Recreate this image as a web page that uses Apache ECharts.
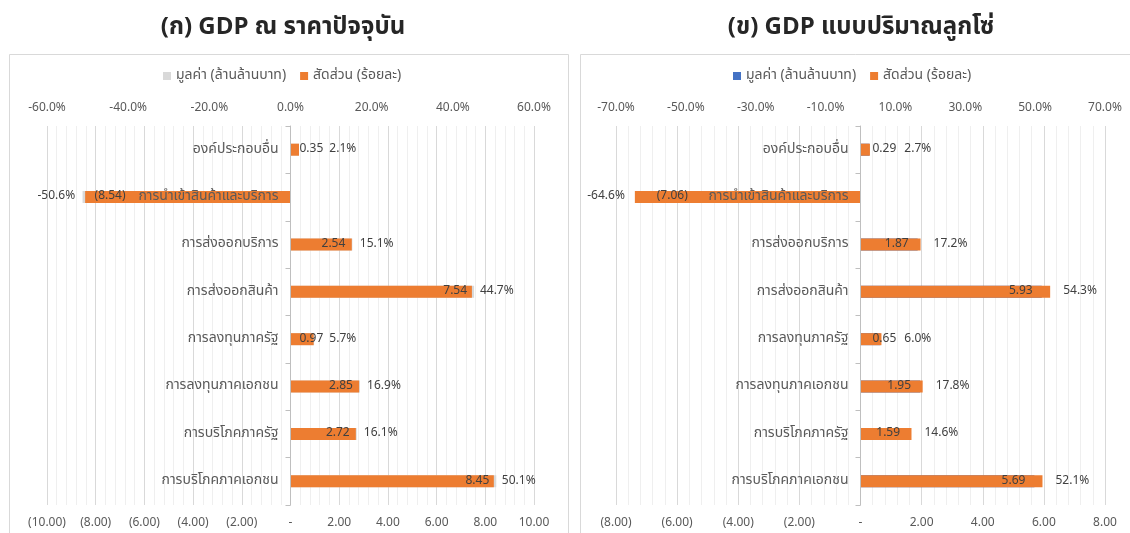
<!DOCTYPE html>
<html>
<head>
<meta charset="utf-8">
<script src="https://cdn.jsdelivr.net/npm/echarts@6/dist/echarts.min.js"></script>
<style>
  html, body { margin: 0; padding: 0; background: #fff; }
  #main { width: 1130px; height: 533px; }
</style>
</head>
<body>
<div id="main"></div>
<script>
// หมวดหมู่ (เรียงจากบนลงล่าง)
var categories = ['องค์ประกอบอื่น', 'การนำเข้าสินค้าและบริการ', 'การส่งออกบริการ', 'การส่งออกสินค้า',
  'การลงทุนภาครัฐ', 'การลงทุนภาคเอกชน', 'การบริโภคภาครัฐ', 'การบริโภคภาคเอกชน'];

// (ก) GDP ณ ราคาปัจจุบัน
var nominalValue = [0.35, -8.54, 2.54, 7.54, 0.97, 2.85, 2.72, 8.45];
var nominalShare = [2.1, -50.6, 15.1, 44.7, 5.7, 16.9, 16.1, 50.1];

// (ข) GDP แบบปริมาณลูกโซ่
var realValue = [0.29, -7.06, 1.87, 5.93, 0.65, 1.95, 1.59, 5.69];
var realShare = [2.7, -64.6, 17.2, 54.3, 6.0, 17.8, 14.6, 52.1];

var titles = ['(ก) GDP ณ ราคาปัจจุบัน', '(ข) GDP แบบปริมาณลูกโซ่'];
var nameValue = 'มูลค่า (ล้านล้านบาท)';
var nameShare = 'สัดส่วน (ร้อยละ)';

var FONT = "'Noto Sans Thai', 'Noto Sans', 'DejaVu Sans', sans-serif";
var ORANGE = '#ED7D31';
var TXT = '#595959';

function fmtValue(v) {
  if (v === 0) return '-';
  return v < 0 ? '(' + (-v).toFixed(2) + ')' : v.toFixed(2);
}

// ป้ายมูลค่า: แท่งเล็กแสดงทั้งมูลค่าและร้อยละรวมกัน
function valueData(vals, shares, vmax, dist) {
  return vals.map(function (v, i) {
    var small = Math.abs(v) / vmax < 0.15;
    var lbl;
    if (small) {
      lbl = { position: 'insideLeft', distance: dist.small,
        formatter: '{a|' + fmtValue(v) + '}{b|' + shares[i].toFixed(1) + '%}' };
    } else {
      lbl = { position: v < 0 ? 'insideLeft' : 'insideRight', distance: v < 0 ? 12 : dist.inside,
        formatter: fmtValue(v) };
    }
    return { value: v, label: lbl };
  });
}

function shareData(vals, shares, vmax, dist) {
  return shares.map(function (s, i) {
    var small = Math.abs(vals[i]) / vmax < 0.15;
    return { value: s, label: { show: !small, position: s < 0 ? 'left' : 'right', distance: s < 0 ? 10 : dist.out } };
  });
}

var myChart = echarts.init(document.getElementById('main'));

function panel(idx, cfg) {
  var grid = { left: cfg.left, right: cfg.right, top: 126, bottom: 28, containLabel: false, outerBoundsMode: 'none' };
  var halfWidth = (1130 - cfg.left - cfg.right) / 2;
  var xTop = {
    type: 'value', gridIndex: idx, position: 'top', min: -cfg.pmax, max: cfg.pmax, interval: cfg.pint,
    axisLine: { show: false }, axisTick: { show: false }, splitLine: { show: false },
    axisLabel: {
      color: TXT, fontSize: 12, fontFamily: FONT, margin: 11,
      formatter: function (v) {
        if (cfg.skipEven && Math.round(Math.abs(v)) % 20 === 0) return '';
        return v.toFixed(1) + '%';
      }
    }
  };
  var xBottom = {
    type: 'value', gridIndex: idx, position: 'bottom', min: -cfg.vmax, max: cfg.vmax, interval: 2,
    axisLine: { show: false }, axisTick: { show: false },
    minorTick: { show: false, splitNumber: 5 },
    splitLine: { show: true, lineStyle: { color: '#D9D9D9', width: 1 } },
    minorSplitLine: { show: true, lineStyle: { color: '#EFEFEF', width: 1 } },
    axisLabel: { color: TXT, fontSize: 12, fontFamily: FONT, margin: 13, formatter: fmtValue }
  };
  // แกนหมวดหมู่วางไว้ที่ศูนย์ของแกนค่า
  var yAx = {
    type: 'category', gridIndex: idx, data: categories, inverse: true, z: 10,
    position: 'left', offset: -halfWidth,
    axisLine: { show: true, onZero: false, lineStyle: { color: '#BFBFBF' } },
    axisTick: { show: true, length: 5, lineStyle: { color: '#BFBFBF' } },
    axisLabel: { color: TXT, fontSize: 14, fontFamily: FONT, margin: 12 }
  };
  var series = [
    {
      name: nameValue, type: 'bar', xAxisIndex: idx * 2 + 1, yAxisIndex: idx,
      barWidth: 12, barGap: '-100%', itemStyle: { color: cfg.valueColor },
      label: { show: true, color: '#404040', fontSize: 12, fontFamily: FONT,
        rich: { a: { color: '#404040', fontSize: 12, fontFamily: FONT },
                b: { color: '#404040', fontSize: 12, fontFamily: FONT, padding: [0, 0, 0, cfg.gap] } } },
      data: valueData(cfg.values, cfg.shares, cfg.vmax, cfg.dist)
    },
    {
      name: nameShare, type: 'bar', xAxisIndex: idx * 2, yAxisIndex: idx,
      barWidth: 12, barGap: '-100%', itemStyle: { color: ORANGE },
      label: { show: true, color: '#404040', fontSize: 12, fontFamily: FONT,
        formatter: function (p) { return p.value.toFixed(1) + '%'; } },
      data: shareData(cfg.values, cfg.shares, cfg.vmax, cfg.dist)
    }
  ];
  var legend = {
    left: cfg.legendLeft, top: 69, padding: 0, itemWidth: 8, itemHeight: 8, itemGap: 14,
    icon: 'rect', textStyle: { color: TXT, fontSize: 14, fontFamily: FONT },
    data: [
      { name: nameValue, itemStyle: { color: cfg.valueColor } },
      { name: nameShare, itemStyle: { color: ORANGE } }
    ]
  };
  var title = {
    text: titles[idx], left: cfg.titleX, top: 17, padding: 0, textAlign: 'center',
    textStyle: { fontSize: 24, fontWeight: 'bold', color: '#262626', fontFamily: FONT }
  };
  return { grid: grid, xAxis: [xTop, xBottom], yAxis: yAx, series: series, legend: legend, title: title };
}

var left = panel(0, {
  left: 47, right: 596, pmax: 60, pint: 20, vmax: 10, skipEven: false,
  values: nominalValue, shares: nominalShare, valueColor: '#D9D9D9',
  dist: { small: 9, inside: 7, out: 8 }, gap: 6, legendLeft: 163, titleX: 283
});
var right = panel(1, {
  left: 616, right: 25, pmax: 70, pint: 10, vmax: 8, skipEven: true,
  values: realValue, shares: realShare, valueColor: '#4472C4',
  dist: { small: 12, inside: 9, out: 13 }, gap: 8, legendLeft: 733, titleX: 861
});

var option = {
  animation: false,
  backgroundColor: '#fff',
  textStyle: { fontFamily: FONT },
  title: [left.title, right.title],
  legend: [left.legend, right.legend],
  grid: [left.grid, right.grid],
  xAxis: left.xAxis.concat(right.xAxis),
  yAxis: [left.yAxis, right.yAxis],
  series: left.series.concat(right.series),
  graphic: [
    { type: 'rect', silent: true, z: -10, shape: { x: 9.5, y: 54.5, width: 559, height: 500 },
      style: { fill: null, stroke: '#D9D9D9', lineWidth: 1 } },
    { type: 'rect', silent: true, z: -10, shape: { x: 580.5, y: 54.5, width: 560, height: 500 },
      style: { fill: null, stroke: '#D9D9D9', lineWidth: 1 } }
  ]
};
myChart.setOption(option);
</script>
</body>
</html>
